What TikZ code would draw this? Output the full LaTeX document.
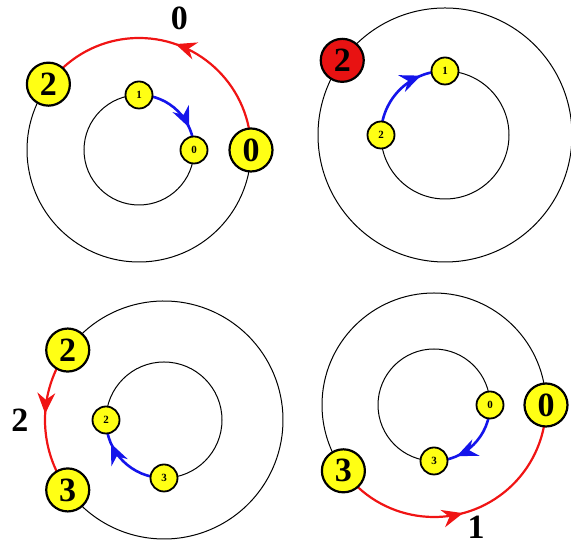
\documentclass[tikz,border=0pt]{standalone}
\usepackage{fontspec}
\setmainfont{Liberation Serif}
\usetikzlibrary{backgrounds}
\definecolor{nodeyellow}{RGB}{255,255,20}
\definecolor{tokenred}{RGB}{232,18,18}
\definecolor{arcred}{RGB}{240,20,20}
\definecolor{arcblue}{RGB}{20,20,235}

\begin{document}
\begin{tikzpicture}[
        x=1pt, y=1pt,
        bignode/.style={circle, draw, line width=2.2pt, fill=nodeyellow, minimum size=43pt, inner sep=0pt, font=\fontsize{34}{34}\selectfont\bfseries},
        smallnode/.style={circle, draw, line width=1.8pt, fill=nodeyellow, minimum size=27pt, inner sep=0pt, font=\fontsize{11}{11}\selectfont\bfseries},
        holder/.style={bignode, fill=tokenred},
        lbl/.style={inner sep=0pt, font=\fontsize{34}{34}\selectfont\bfseries},
        ring/.style={draw, line width=1pt},
        redarc/.style={draw=arcred, line width=2.2pt},
        bluearc/.style={draw=arcblue, line width=2.6pt},
        tiphead/.pic={\fill (0,0) -- (-21,9) -- (-14,0) -- (-21,-9) -- cycle;}
    ]
    \useasboundingbox (0,0) rectangle (571,548);
    \coordinate (O1) at (139,398);
    \coordinate (O2) at (445,413);
    \coordinate (O3) at (164,128);
    \coordinate (O4) at (434,143);

    \node[bignode] (A2) at ([shift={(144:112)}]O1) {2};
    \node[bignode] (A0) at ([shift={(0:112)}]O1) {0};
    \node[smallnode] (a1) at ([shift={(90:55)}]O1) {1};
    \node[smallnode] (a0) at ([shift={(0:55)}]O1) {0};
    \node[lbl] (Aw) at ([shift={(73:138)}]O1) {0};

    \node[holder] (B2) at ([shift={(144:127)}]O2) {2};
    \node[smallnode] (b1) at ([shift={(90:64)}]O2) {1};
    \node[smallnode] (b2) at ([shift={(180:64)}]O2) {2};

    \node[bignode] (C2) at ([shift={(144:119)}]O3) {2};
    \node[bignode] (C3) at ([shift={(216:119)}]O3) {3};
    \node[smallnode] (c2) at ([shift={(180:58)}]O3) {2};
    \node[smallnode] (c3) at ([shift={(270:58)}]O3) {3};
    \node[lbl] (Cw) at ([shift={(180:144)}]O3) {2};

    \node[bignode] (D3) at ([shift={(216:112)}]O4) {3};
    \node[bignode] (D0) at ([shift={(0:112)}]O4) {0};
    \node[smallnode] (d0) at ([shift={(0:56)}]O4) {0};
    \node[smallnode] (d3) at ([shift={(270:56)}]O4) {3};
    \node[lbl] (Dw) at ([shift={(289:129)}]O4) {1};

    \begin{scope}[on background layer]
        \draw[ring] (A2.center) arc[start angle=144, end angle=360, radius=112];
        \draw[redarc] (A0.center) arc[start angle=0, end angle=144, radius=112];
        \pic[arcred, rotate=161] at ([shift={(71:112)}]O1) {tiphead};
        \draw[ring] (a1.center) arc[start angle=90, end angle=360, radius=55];
        \draw[bluearc] (a1.center) arc[start angle=90, end angle=0, radius=55];
        \pic[arcblue, rotate=-66] at ([shift={(24:55)}]O1) {tiphead};

        \draw[ring] (O2) circle[radius=127];
        \draw[ring] (b1.center) arc[start angle=90, end angle=-180, radius=64];
        \draw[bluearc] (b2.center) arc[start angle=180, end angle=90, radius=64];
        \pic[arcblue, rotate=22] at ([shift={(112:64)}]O2) {tiphead};

        \draw[ring] (C2.center) arc[start angle=144, end angle=-144, radius=119];
        \draw[redarc] (C2.center) arc[start angle=144, end angle=216, radius=119];
        \pic[arcred, rotate=267] at ([shift={(177:119)}]O3) {tiphead};
        \draw[ring] (c2.center) arc[start angle=180, end angle=-90, radius=58];
        \draw[bluearc] (c3.center) arc[start angle=270, end angle=180, radius=58];
        \pic[arcblue, rotate=114] at ([shift={(204:58)}]O3) {tiphead};

        \draw[ring] (D0.center) arc[start angle=0, end angle=216, radius=112];
        \draw[redarc] (D3.center) arc[start angle=216, end angle=360, radius=112];
        \pic[arcred, rotate=15] at ([shift={(285:112)}]O4) {tiphead};
        \draw[ring] (d0.center) arc[start angle=0, end angle=270, radius=56];
        \draw[bluearc] (d0.center) arc[start angle=360, end angle=270, radius=56];
        \pic[arcblue, rotate=204] at ([shift={(294:56)}]O4) {tiphead};
    \end{scope}
\end{tikzpicture}
\end{document}
